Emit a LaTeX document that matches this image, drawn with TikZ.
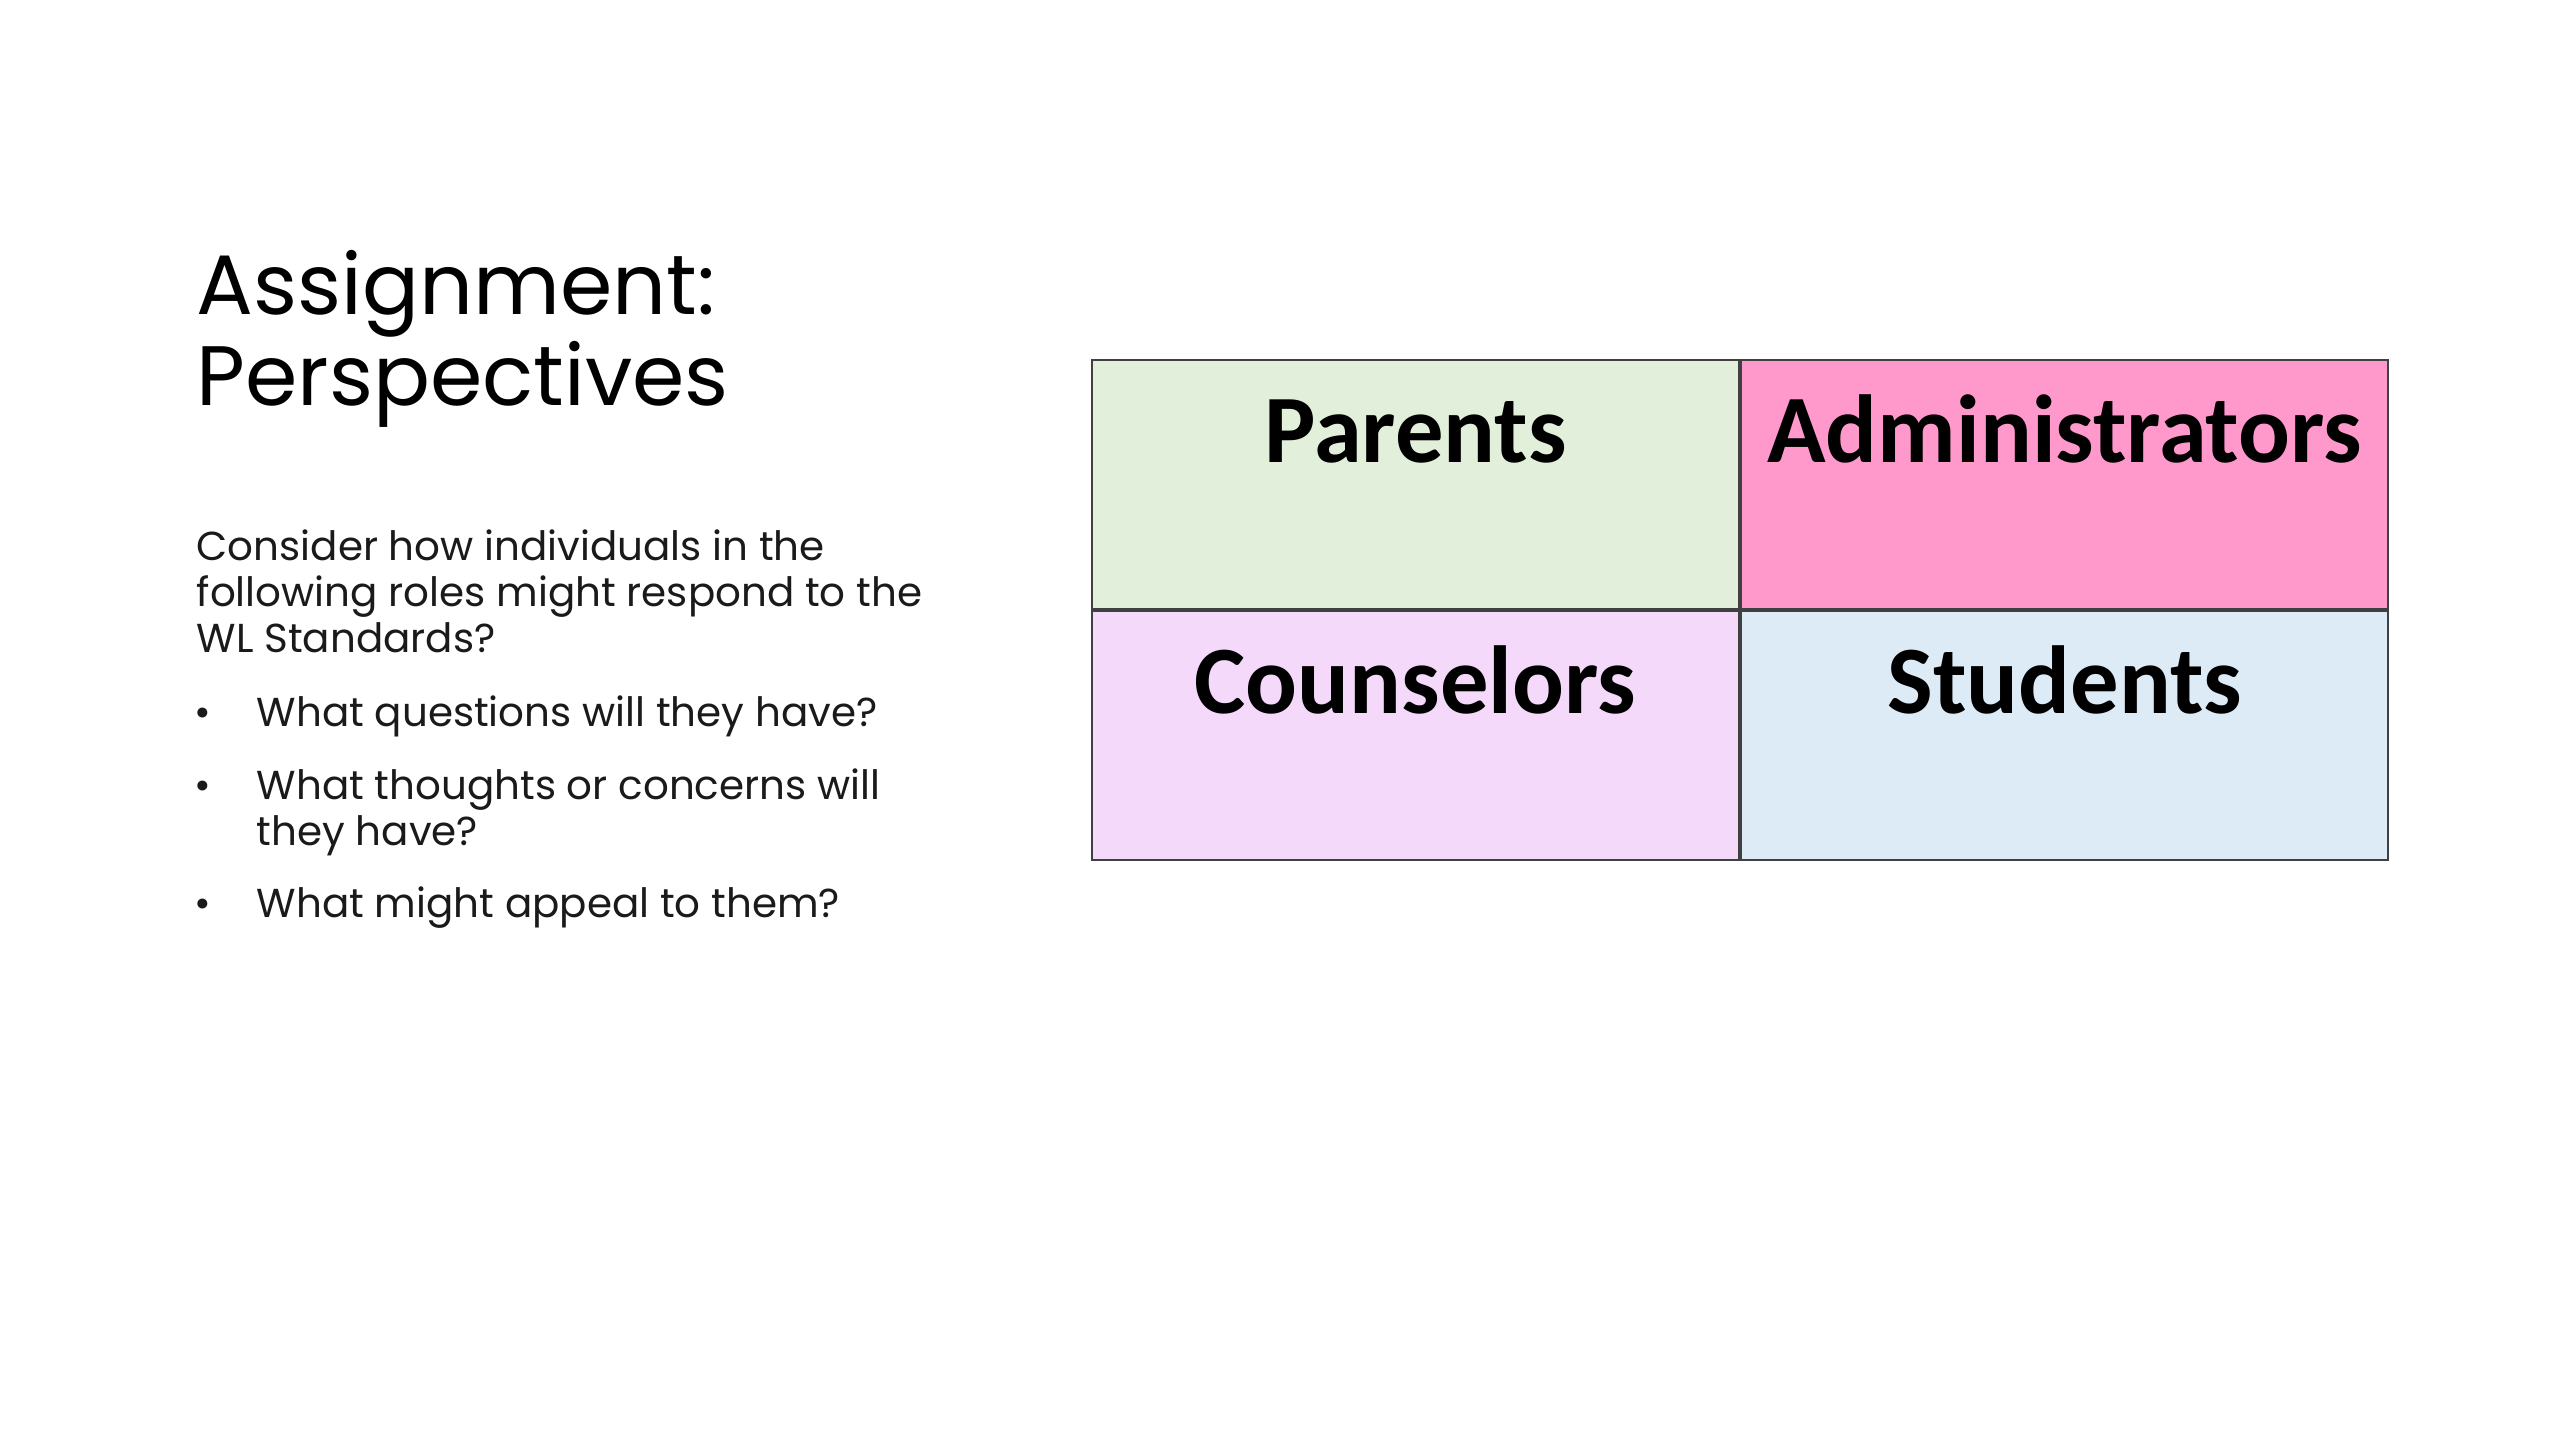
\documentclass[tikz,border=0pt]{standalone}
\usepackage{fontspec}
\usepackage{xcolor}
\usepackage{tikz}
\usetikzlibrary{calc}
\setmainfont{Poppins}
\newfontfamily\calfont{Carlito}
\definecolor{parentsgreen}{HTML}{E2EFDA}
\definecolor{adminpink}{HTML}{FF99CC}
\definecolor{counsellilac}{HTML}{F5D9FA}
\definecolor{studentblue}{HTML}{DDEBF7}
\definecolor{cellline}{HTML}{404040}
\definecolor{bodytext}{HTML}{1A1A1A}

\begin{document}
\begin{tikzpicture}
                \tikzstyle{every node}+=[inner sep=0pt]
                \tikzstyle{cell}=[draw=cellline, line width=0.6pt, minimum width=6.47cm, minimum height=2.49cm, anchor=north west]
                \tikzstyle{celltext}=[anchor=base, font=\calfont\bfseries\fontsize{27.5}{27.5}\selectfont]
                \tikzstyle{titleline}=[anchor=base west, font=\fontsize{24}{24}\selectfont]
                \tikzstyle{bodyline}=[anchor=base west, text=bodytext, font=\fontsize{11.5}{13}\selectfont]
                \useasboundingbox (0,0) rectangle (25.6,-14.4);
                % title
                \node [titleline] (title1) at (1.96,-3.14) {Assignment:};
                \node [titleline] (title2) at (1.96,-4.05) {Perspectives};
                % question text
                \node [bodyline] (intro1) at (1.96,-5.60) {Consider how individuals in the};
                \node [bodyline] (intro2) at (1.96,-6.06) {following roles might respond to the};
                \node [bodyline] (intro3) at (1.96,-6.52) {WL Standards?};
                \node [bodyline] (q1) at (2.56,-7.26) {What questions will they have?};
                \node [bodyline] (q2) at (2.56,-7.99) {What thoughts or concerns will};
                \node [bodyline] (q2b) at (2.56,-8.45) {they have?};
                \node [bodyline] (q3) at (2.56,-9.17) {What might appeal to them?};
                \foreach \q in {q1,q2,q3}
                    \node [bodyline, anchor=base] (dot-\q) at ($(\q.base west)+(-0.53,0)$) {\textbullet};
                % role grid
                \node [cell, fill=parentsgreen] (parents) at (10.91,-3.59) {};
                \node [cell, fill=adminpink] (admins) at (parents.north east) {};
                \node [cell, fill=counsellilac] (counsel) at (parents.south west) {};
                \node [cell, fill=studentblue] (students) at (parents.south east) {};
                \node [celltext] (parentslbl) at ($(parents.north)+(0,-1.03)$) {Parents};
                \node [celltext] (adminslbl) at ($(admins.north)+(0,-1.03)$) {Administrators};
                \node [celltext] (counsellbl) at ($(counsel.north)+(0,-1.03)$) {Counselors};
                \node [celltext] (studentslbl) at ($(students.north)+(0,-1.03)$) {Students};
            \end{tikzpicture}
\end{document}
